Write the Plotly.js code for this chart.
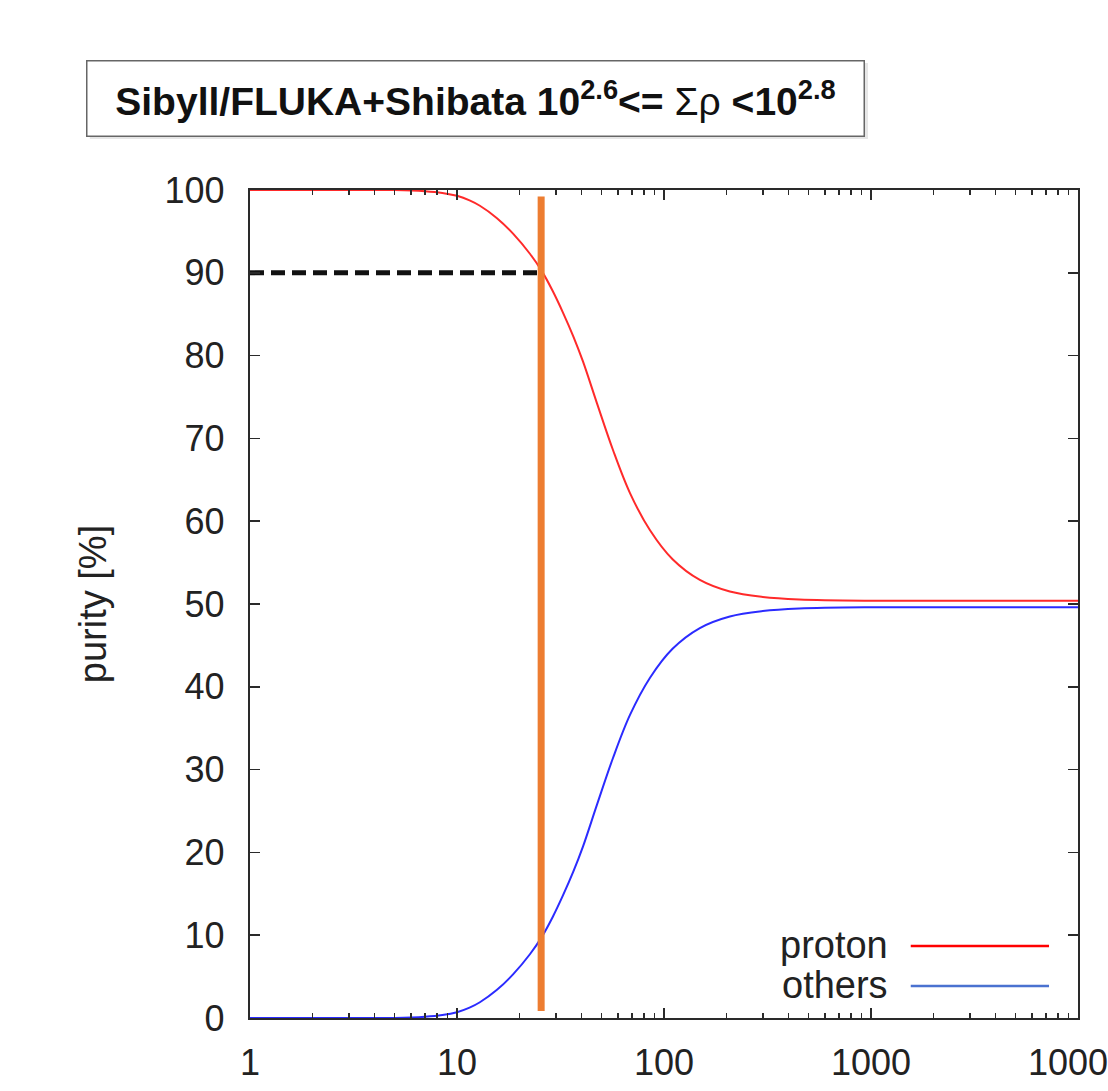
<!DOCTYPE html>
<html>
<head>
<meta charset="utf-8">
<script src="https://cdn.plot.ly/plotly-3.0.1.min.js"></script>
<style>
  html, body { margin: 0; padding: 0; background: #ffffff; }
  #chart { width: 1108px; height: 1091px; }
</style>
</head>
<body>
<div id="chart"></div>
<script>
// ---- data ----
var energy = [1, 3, 5, 7, 8.5, 10, 11.5, 12.9, 15.6, 18.7, 22.5, 25.7, 29, 32.5, 36.5, 40.6, 47.5, 56.7, 68.5, 85.6, 110, 149, 208, 300, 450, 1000, 10000];
var protonPurity = [100, 100, 100, 99.86, 99.65, 99.3, 98.75, 98.1, 96.6, 94.7, 92.3, 90.2, 87.8, 85.2, 82.3, 79.3, 74.2, 68.6, 63.4, 58.9, 55.4, 52.9, 51.5, 50.85, 50.55, 50.4, 50.4];
var othersPurity = [0, 0, 0, 0.14, 0.35, 0.7, 1.25, 1.9, 3.4, 5.3, 7.7, 9.8, 12.2, 14.8, 17.7, 20.7, 25.8, 31.4, 36.6, 41.1, 44.6, 47.1, 48.5, 49.15, 49.45, 49.6, 49.6];

var cutEnergy = [25.5, 25.5];
var cutRange = [0.85, 99.2];
var refEnergy = [1, 25.5];
var refPurity = [90, 90];

var xTickVals = [1, 10, 100, 1000, 10000];
var xTickText = ['1', '10', '100', '1000', '10000'];
var xMinorVals = [2,3,4,5,6,7,8,9, 20,30,40,50,60,70,80,90, 200,300,400,500,600,700,800,900, 2000,3000,4000,5000,6000,7000,8000,9000];
var yTickVals = [0, 10, 20, 30, 40, 50, 60, 70, 80, 90, 100];

var seriesNames = ['proton', 'others'];
var titleText = '<b>Sibyll/FLUKA+Shibata 10<sup>2.6</sup>&lt;=</b> Σρ <b>&lt;10<sup>2.8</sup></b>';
var yTitle = 'purity [%]';

// ---- traces ----
var traces = [
  { x: energy, y: protonPurity, name: seriesNames[0], type: 'scatter', mode: 'lines',
    line: { color: '#ff2a2a', width: 2, shape: 'spline', smoothing: 1.0 }, hoverinfo: 'x+y' },
  { x: energy, y: othersPurity, name: seriesNames[1], type: 'scatter', mode: 'lines',
    line: { color: '#2b2bff', width: 2, shape: 'spline', smoothing: 1.0 }, hoverinfo: 'x+y' },
  { x: refEnergy, y: refPurity, type: 'scatter', mode: 'lines', showlegend: false,
    line: { color: '#111111', width: 5, dash: '14px,7px' }, hoverinfo: 'skip' },
  { x: cutEnergy, y: cutRange, type: 'scatter', mode: 'lines', showlegend: false,
    line: { color: '#ED7D31', width: 7 }, hoverinfo: 'skip' }
];

var axisColor = '#2a2a2a';
var layout = {
  width: 1108, height: 1091,
  margin: { l: 250, r: 30, t: 190, b: 73 },
  paper_bgcolor: '#ffffff', plot_bgcolor: '#ffffff',
  showlegend: false,
  font: { family: '"Liberation Sans", Arial, Helvetica, sans-serif', color: '#222222', size: 36 },
  xaxis: {
    type: 'log', range: [0, 4],
    tickmode: 'array', tickvals: xTickVals, ticktext: xTickText,
    ticks: 'inside', ticklen: 10, tickwidth: 1.5, tickcolor: axisColor,
    showline: true, linecolor: axisColor, linewidth: 2.2, mirror: 'ticks',
    showgrid: false, zeroline: false,
    ticklabeloverflow: 'allow', ticklabelstandoff: 12,
    tickfont: { size: 36, color: '#222222' },
    minor: { tickmode: 'array', tickvals: xMinorVals, ticks: 'inside', ticklen: 5,
             tickwidth: 1.5, tickcolor: axisColor, showgrid: false }
  },
  yaxis: {
    range: [0, 100], tickmode: 'array', tickvals: yTickVals,
    ticks: 'inside', ticklen: 10, tickwidth: 1.5, tickcolor: axisColor,
    showline: true, linecolor: axisColor, linewidth: 2.2, mirror: 'ticks',
    showgrid: false, zeroline: false,
    ticklabelstandoff: 16,
    tickfont: { size: 36, color: '#222222' },
    title: { text: yTitle, font: { size: 38, color: '#222222' }, standoff: 46 }
  },
  shapes: [
    { type: 'rect', xref: 'paper', yref: 'paper', x0: -0.1935, x1: 0.7464, y0: 1.0616, y1: 1.1535,
      fillcolor: '#e6e6e6', line: { width: 0 }, layer: 'below' },
    { type: 'line', xref: 'paper', yref: 'paper', x0: 0.798, x1: 0.965, y0: 0.087, y1: 0.087,
      line: { color: '#ff0000', width: 2.5 } },
    { type: 'line', xref: 'paper', yref: 'paper', x0: 0.798, x1: 0.965, y0: 0.0386, y1: 0.0386,
      line: { color: '#4a72d0', width: 2.5 } }
  ],
  annotations: [
    { text: titleText, xref: 'paper', yref: 'paper', x: 0.2729, y: 1.1111,
      xanchor: 'center', yanchor: 'middle', showarrow: false,
      width: 768, height: 66, borderpad: 4, borderwidth: 1.5, bordercolor: '#666666', bgcolor: '#ffffff',
      font: { size: 39, color: '#111111' } },
    { text: seriesNames[0], xref: 'paper', yref: 'paper', x: 0.773, y: 0.0882,
      xanchor: 'right', yanchor: 'middle', showarrow: false, font: { size: 38, color: '#222222' } },
    { text: seriesNames[1], xref: 'paper', yref: 'paper', x: 0.773, y: 0.0399,
      xanchor: 'right', yanchor: 'middle', showarrow: false, font: { size: 38, color: '#222222' } }
  ]
};

Plotly.newPlot('chart', traces, layout, { displayModeBar: false, staticPlot: true });
</script>
</body>
</html>
